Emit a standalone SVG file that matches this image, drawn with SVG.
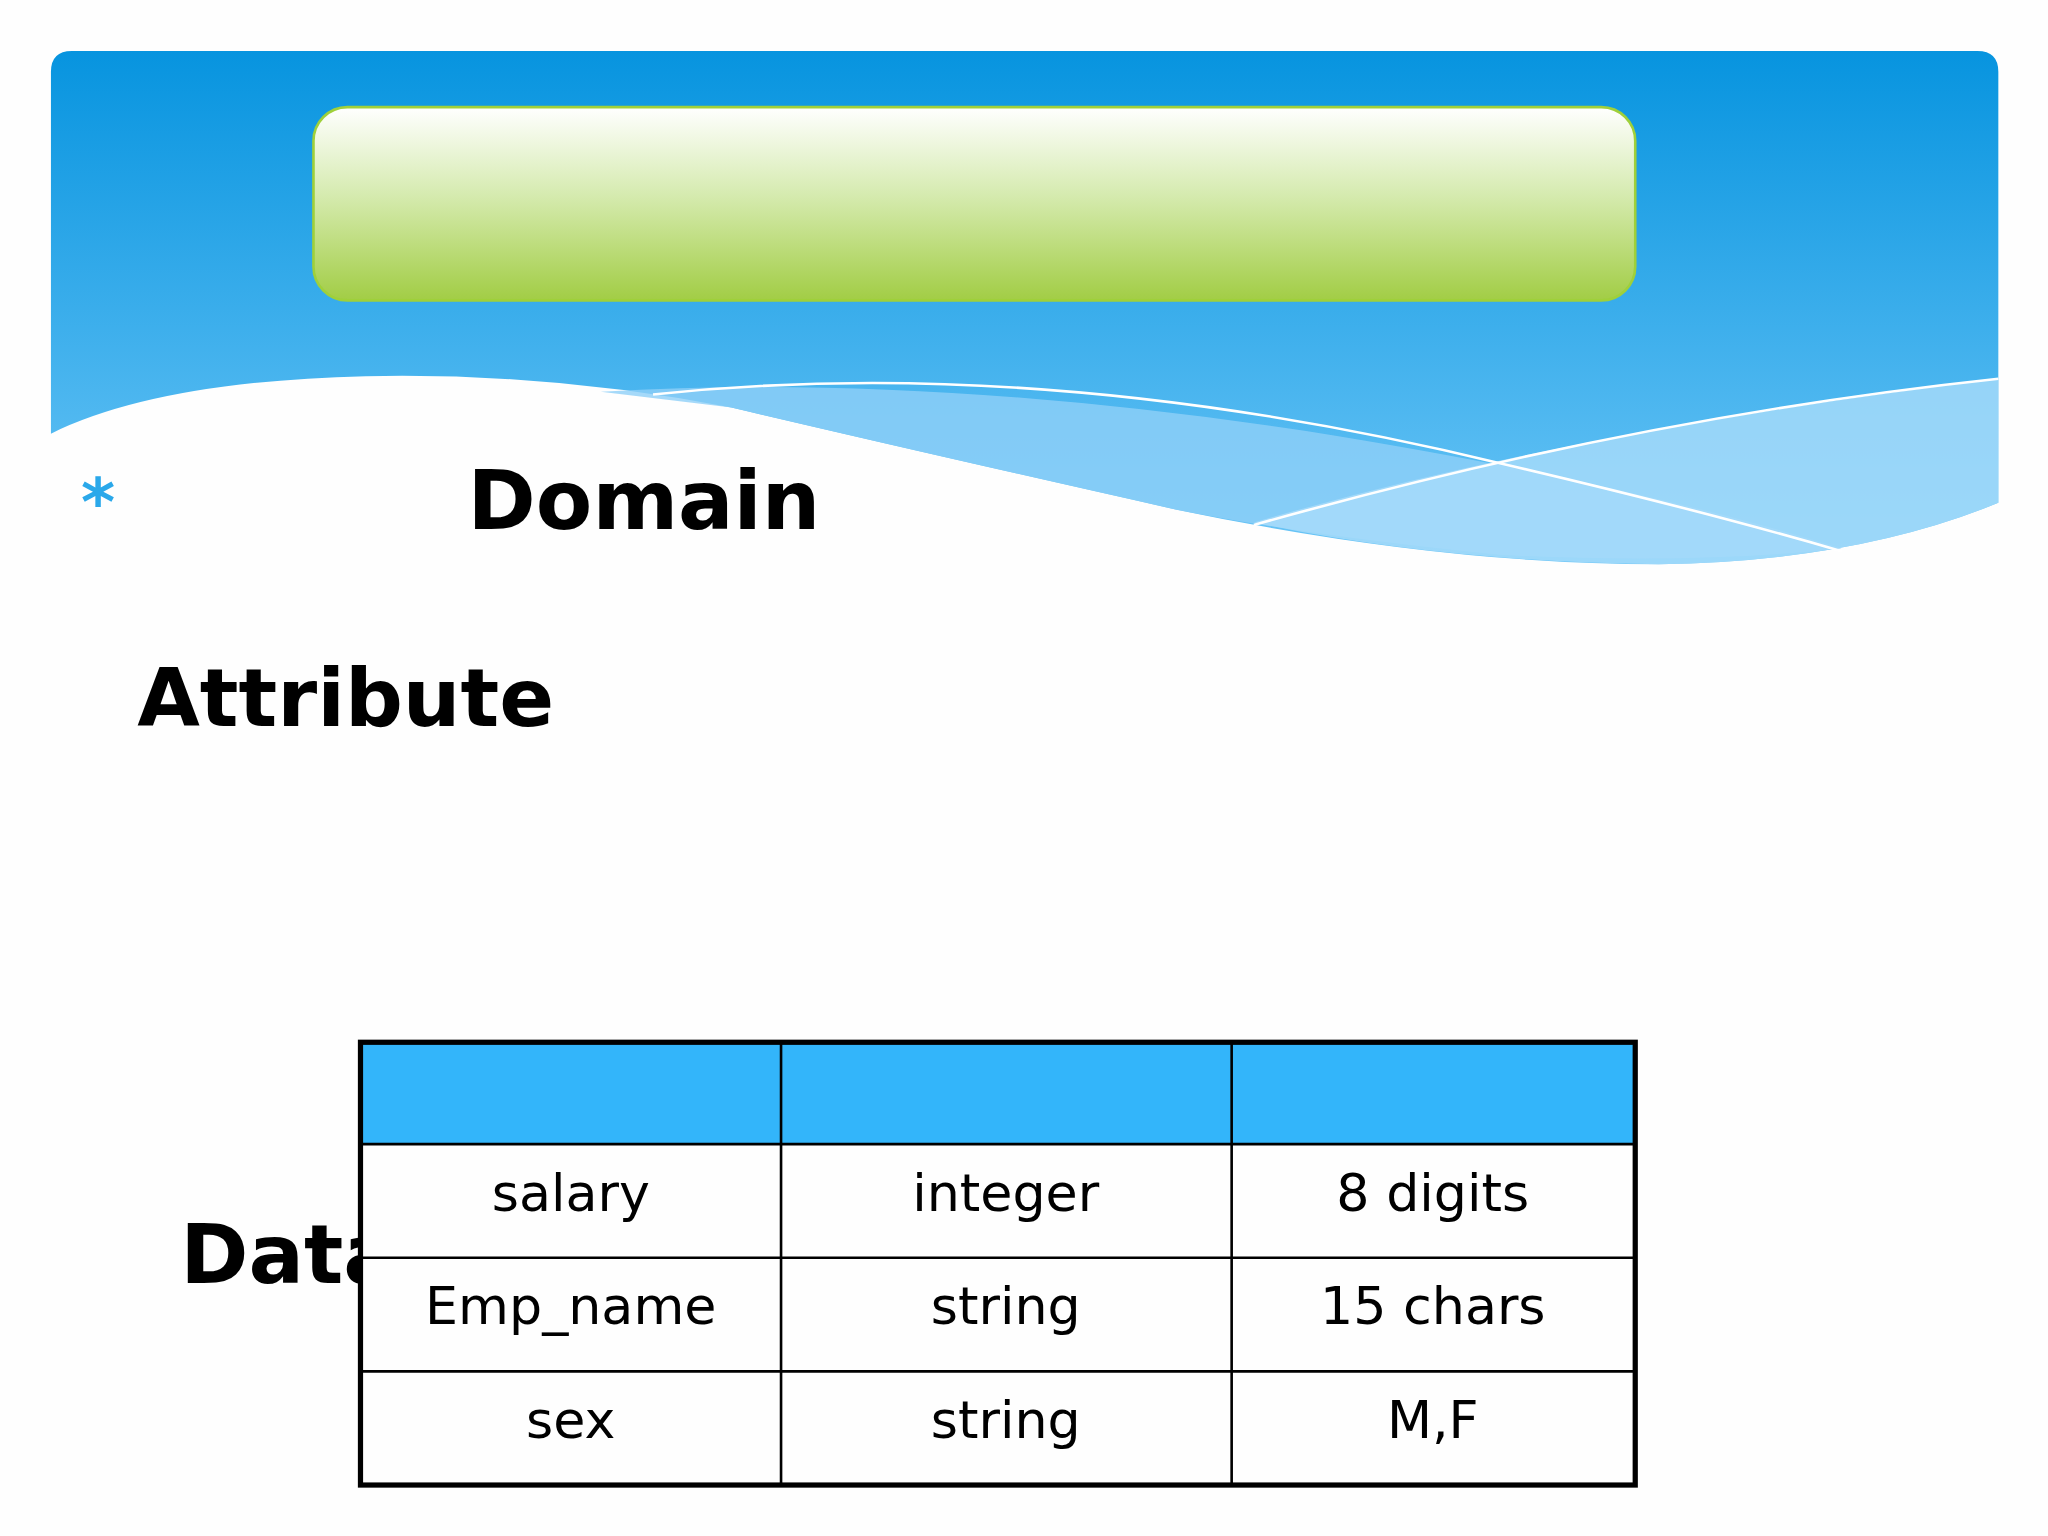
<svg xmlns="http://www.w3.org/2000/svg" width="2048" height="1536" viewBox="0 0 2048 1536">
<defs>
<linearGradient id="sky" x1="0" y1="0" x2="0" y2="1"><stop offset="0" stop-color="#0794df"/><stop offset="1" stop-color="#6cc6f7"/></linearGradient>
<linearGradient id="grn" x1="0" y1="0" x2="0" y2="1"><stop offset="0" stop-color="#ffffff"/><stop offset="0.45" stop-color="#d6ebb0"/><stop offset="1" stop-color="#a2cd45"/></linearGradient>
<style>
.h{font-family:"DejaVu Sans",Verdana,sans-serif;font-weight:bold;fill:#000}
.c{font-family:"DejaVu Sans",sans-serif;font-size:40px;fill:#000;text-anchor:middle}
.wl{fill:none;stroke:#fff;stroke-width:2}
</style>
</defs>
<rect width="2048" height="1536" fill="#fefefe"/>
<g transform="scale(1.3061)">
<g id="banner">
<path d="M39,55 Q39,39 55,39 L1514,39 Q1530,39 1530,55 L1530,385 Q1420,430 1270,432 Q1100,432 900,390 Q700,345 560,312 Q420,285 280,288 Q120,292 39,332 Z" fill="url(#sky)"/>
<path d="M460,300 Q700,285 1000,330 Q1250,370 1410,420 Q1300,432 1150,425 Q1000,410 900,390 Q700,345 560,312 Z" fill="#8fd0f8" opacity="0.8"/>
<path d="M960,400 Q1200,330 1530,290 L1530,385 Q1420,430 1270,432 Q1100,430 960,400 Z" fill="#a9dcfa" opacity="0.8"/>
<path class="wl" d="M500,302 Q800,270 1150,355 Q1300,390 1410,422"/>
<path class="wl" d="M960,402 Q1250,320 1530,290"/>
<rect x="240" y="82" width="1012" height="148" rx="26" fill="url(#grn)" stroke="#9fd03a" stroke-width="2"/>
</g>
<text x="75" y="402" font-family="DejaVu Sans,sans-serif" font-weight="bold" font-size="50" fill="#2aa8ea" text-anchor="middle">*</text>
<text class="h" x="358" y="405" font-size="63">Domain</text>
<text class="h" x="105" y="556" font-size="62">Attribute</text>
<text class="h" x="138" y="982" font-size="63">Data</text>
<g id="table">
<rect x="276" y="798" width="976" height="339" fill="#fefefe"/>
<rect x="276" y="798" width="976" height="78" fill="#33b5fa"/>
<g stroke="#000" stroke-width="2">
<line x1="276" y1="876" x2="1252" y2="876"/><line x1="276" y1="963" x2="1252" y2="963"/><line x1="276" y1="1050" x2="1252" y2="1050"/>
<line x1="598" y1="798" x2="598" y2="1137"/><line x1="943" y1="798" x2="943" y2="1137"/>
</g>
<rect x="276" y="798" width="976" height="339" fill="none" stroke="#000" stroke-width="4"/>
<text class="c" x="437" y="927">salary</text><text class="c" x="770" y="927">integer</text><text class="c" x="1097" y="927">8 digits</text>
<text class="c" x="437" y="1014">Emp_name</text><text class="c" x="770" y="1014">string</text><text class="c" x="1097" y="1014">15 chars</text>
<text class="c" x="437" y="1101">sex</text><text class="c" x="770" y="1101">string</text><text class="c" x="1097" y="1101">M,F</text>
</g>
</g>
</svg>
